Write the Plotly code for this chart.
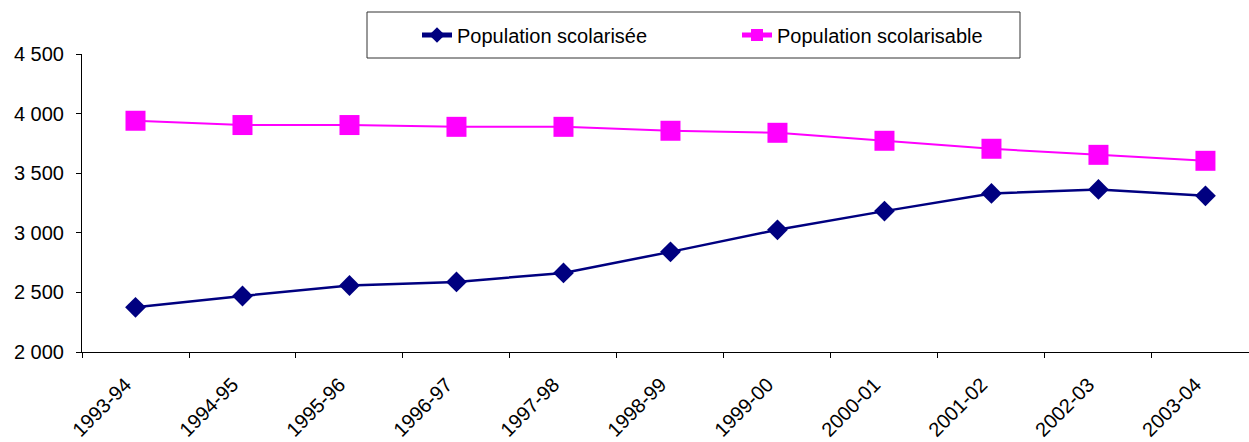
import plotly.graph_objects as go

categories = ["1993-94", "1994-95", "1995-96", "1996-97", "1997-98", "1998-99",
              "1999-00", "2000-01", "2001-02", "2002-03", "2003-04"]
scolarisee = [2375, 2470, 2558, 2588, 2663, 2840, 3025, 3182, 3330, 3364, 3310]
scolarisable = [3940, 3904, 3904, 3889, 3889, 3856, 3839, 3772, 3705, 3654, 3604]
y_ticks = [2000, 2500, 3000, 3500, 4000, 4500]
y_tick_labels = ["2 000", "2 500", "3 000", "3 500", "4 000", "4 500"]

FONT = "Liberation Sans, Arial, sans-serif"
FS = 20

W, H = 1249, 442
ML, MR, MT, MB = 82, 0, 54, 90
PW, PH = W - ML - MR, H - MT - MB


def px_x(x):
    return (x - ML) / PW


def px_y(y):
    return (H - MB - y) / PH


fig = go.Figure()
fig.add_trace(go.Scatter(
    x=categories, y=scolarisee, name="Population scolarisée",
    mode="lines+markers",
    line=dict(color="#000080", width=2.5),
    marker=dict(symbol="diamond", size=16, color="#000080"),
))
fig.add_trace(go.Scatter(
    x=categories, y=scolarisable, name="Population scolarisable",
    mode="lines+markers",
    line=dict(color="#FF00FF", width=2),
    marker=dict(symbol="square", size=20, color="#FF00FF"),
))

# legend frame
fig.add_shape(type="rect", xref="paper", yref="paper",
              x0=px_x(367), x1=px_x(1020), y0=px_y(58), y1=px_y(12),
              line=dict(color="#333333", width=1), fillcolor="white", layer="below")

fig.update_layout(
    width=W, height=H,
    margin=dict(l=ML, r=MR, t=MT, b=MB, pad=0, autoexpand=False),
    paper_bgcolor="white", plot_bgcolor="white",
    font=dict(family=FONT, size=FS, color="black"),
    showlegend=True,
    legend=dict(
        orientation="h", x=px_x(417), y=px_y(35), xanchor="left", yanchor="middle",
        borderwidth=0, bgcolor="rgba(0,0,0,0)",
        font=dict(family=FONT, size=FS, color="black"),
        itemsizing="constant", entrywidth=275, entrywidthmode="pixels",
    ),
    xaxis=dict(
        type="category", range=[-0.5, 10.407], automargin=False,
        tickson="boundaries", ticks="outside", ticklen=5, tickcolor="black",
        showline=True, linecolor="black", linewidth=1,
        showgrid=False, zeroline=False, tickangle=-45,
        ticklabelstandoff=12, ticklabelshift=-10,
        tickfont=dict(family=FONT, size=FS, color="black"),
    ),
    yaxis=dict(
        range=[2000, 4500], tickvals=y_ticks, ticktext=y_tick_labels,
        automargin=False,
        ticks="outside", ticklen=5, tickcolor="black",
        showline=True, linecolor="black", linewidth=1,
        showgrid=False, zeroline=False, ticklabelstandoff=8,
        tickfont=dict(family=FONT, size=FS, color="black"),
    ),
)

fig.write_html("out.html", config={"displayModeBar": False},
               post_script="document.body.style.margin='0';")
